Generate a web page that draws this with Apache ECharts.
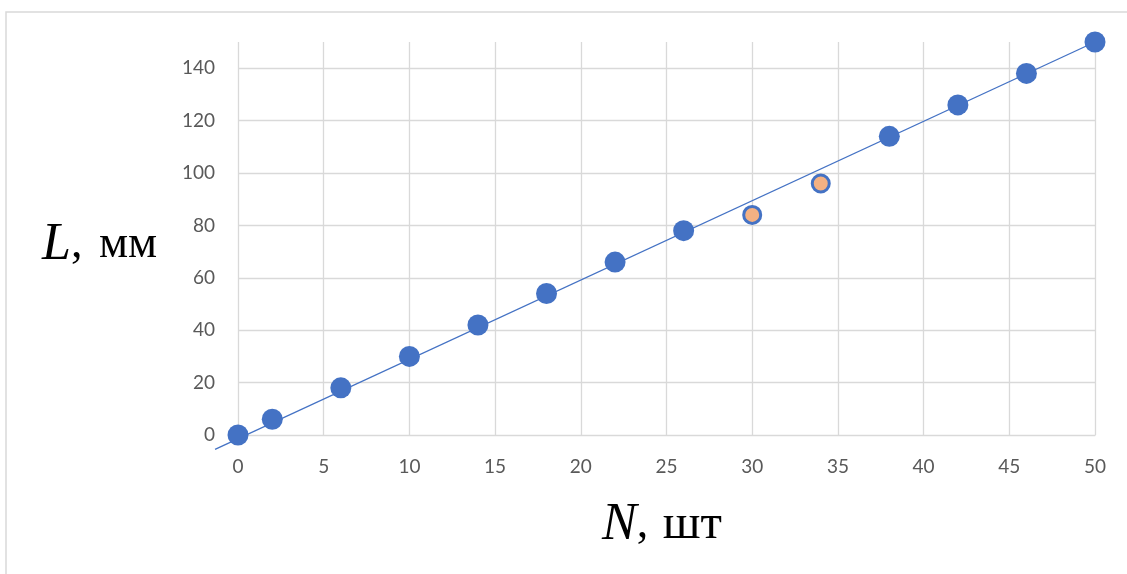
<!DOCTYPE html>
<html>
<head>
<meta charset="utf-8">
<script src="https://cdn.jsdelivr.net/npm/echarts@6/dist/echarts.min.js"></script>
<style>html,body{margin:0;padding:0;background:#fff}#c{width:1127px;height:574px}</style>
</head>
<body>
<div id="c"></div>
<script>
// Measured points (blue)
var nValues = [0, 2, 6, 10, 14, 18, 22, 26, 38, 42, 46, 50];
var lValues = [0, 6, 18, 30, 42, 54, 66, 78, 114, 126, 138, 150];
// Deviating points (orange)
var outlierN = [30, 34];
var outlierL = [84, 96];
// Straight line endpoints
var lineN = [-1.34, 50];
var lineL = [-5.5, 150];
// Axis ticks
var xTicks = [0, 5, 10, 15, 20, 25, 30, 35, 40, 45, 50];
var yTicks = [0, 20, 40, 60, 80, 100, 120, 140];

function pairs(a, b) { return a.map(function (v, i) { return [v, b[i]]; }); }

var chart = echarts.init(document.getElementById('c'), null, {renderer: 'canvas'});
var grid = '#d9d9d9';
var labelFont = {color: '#595959', fontSize: 19, fontFamily: 'Lato, "Open Sans", sans-serif'};
var serif = '"Liberation Serif", "DejaVu Serif", serif';
var titleRich = {
  i: {fontFamily: serif, fontStyle: 'italic', fontSize: 52, fill: '#000'},
  c: {fontFamily: serif, fontSize: 46, fill: '#000'},
  m: {fontFamily: serif, fontSize: 46, fill: '#000', padding: [0, 0, 0, 5]},
  s: {fontFamily: serif, fontSize: 49, fill: '#000', padding: [0, 0, 0, 3]}
};

chart.setOption({
  backgroundColor: '#fff',
  animation: false,
  grid: {left: 238, right: 32, top: 42, bottom: 139},
  xAxis: {
    type: 'value', min: xTicks[0], max: xTicks[xTicks.length - 1], interval: 5,
    axisLine: {show: true, lineStyle: {color: grid, width: 1.3}},
    axisTick: {show: false},
    axisLabel: Object.assign({margin: 22}, labelFont),
    splitLine: {show: true, lineStyle: {color: grid, width: 1.3}}
  },
  yAxis: {
    type: 'value', min: yTicks[0], max: 150, interval: 20,
    axisLine: {show: false},
    axisTick: {show: false},
    axisLabel: Object.assign({margin: 23, showMaxLabel: false}, labelFont),
    splitLine: {show: true, showMaxLine: false, showMinLine: false, lineStyle: {color: grid, width: 1.3}}
  },
  graphic: [
    {type: 'rect', silent: true, z: -1, shape: {x: 6, y: 12, width: 1300, height: 800},
     style: {fill: 'none', stroke: '#d9d9d9', lineWidth: 1.5}},
    {type: 'text', left: 42, top: 219, style: {text: '{i|L}{c|, }{m|мм}', rich: titleRich}},
    {type: 'text', left: 602, top: 499, style: {text: '{i|N}{c|, }{s|шт}', rich: titleRich}}
  ],
  series: [
    {
      type: 'custom', clip: false, silent: true, z: 1,
      data: pairs(lineN, lineL),
      renderItem: function (params, api) {
        if (params.dataIndex !== 0) return null;
        var p0 = api.coord([lineN[0], lineL[0]]);
        var p1 = api.coord([lineN[1], lineL[1]]);
        return {type: 'line', shape: {x1: p0[0], y1: p0[1], x2: p1[0], y2: p1[1]},
                style: {stroke: '#4472C4', lineWidth: 1.3}};
      }
    },
    {
      type: 'scatter', data: pairs(nValues, lValues), symbolSize: 21,
      itemStyle: {color: '#4472C4', opacity: 1}, z: 3
    },
    {
      type: 'scatter', data: pairs(outlierN, outlierL), symbolSize: 17,
      itemStyle: {color: '#F4B183', borderColor: '#4472C4', borderWidth: 3, opacity: 1}, z: 3
    }
  ]
});
</script>
</body>
</html>
